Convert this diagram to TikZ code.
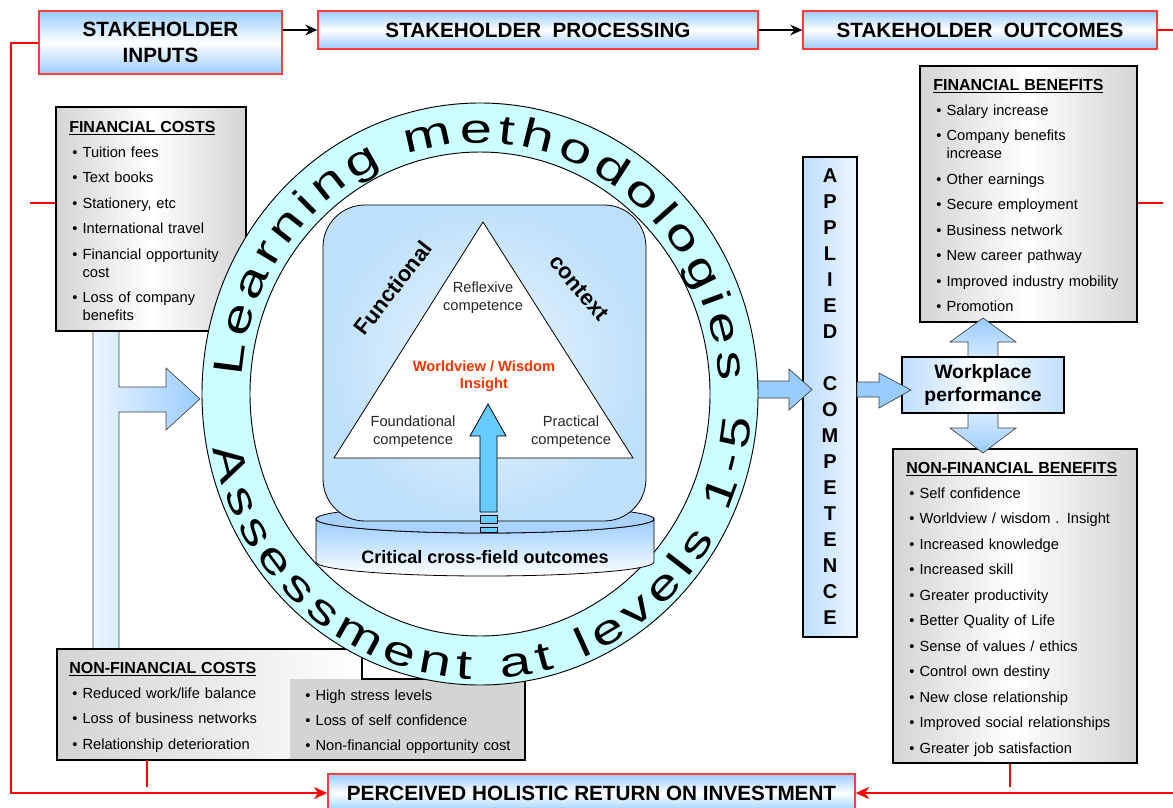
\documentclass[tikz,border=0pt]{standalone}
\usepackage{fontspec}
\setmainfont{Liberation Sans}
\newfontfamily\ringfamily[FakeStretch=1.4]{Liberation Sans}
\usepackage{xcolor}
\usepackage{tikz}
\usetikzlibrary{arrows.meta,decorations.text}

\definecolor{hdrblue}{RGB}{153,204,255}
\definecolor{hdrred}{RGB}{255,60,60}
\definecolor{linered}{RGB}{255,0,0}
\definecolor{boxgray}{RGB}{212,212,212}
\definecolor{ringcyan}{RGB}{204,255,255}
\definecolor{sqblue}{RGB}{190,224,250}
\definecolor{sqlight}{RGB}{236,246,255}
\definecolor{arrblue}{RGB}{153,204,255}
\definecolor{uparrblue}{RGB}{102,204,255}
\definecolor{barblue}{RGB}{190,222,252}
\definecolor{barlight}{RGB}{236,245,255}
\definecolor{diskblue}{RGB}{170,210,255}
\definecolor{wisdomred}{RGB}{255,51,0}

\newcommand\listfont{\fontsize{11}{13.5}\selectfont}
\newcommand\boxtitle[1]{{\fontsize{12}{13.5}\selectfont\bfseries\underline{#1}}\par}
\newcommand\bitem[1]{\hangindent=10pt\hangafter=1\noindent\makebox[10pt][l]{\hspace{2.25pt}\textbullet}#1\par}
\newcommand\ringfont{\ringfamily\fontsize{31}{36}\selectfont}

\tikzset{
  header/.style={draw=hdrred, line width=1pt, top color=hdrblue, bottom color=hdrblue, middle color=white, inner sep=0pt, align=center, font=\fontsize{15.5}{19.5}\selectfont\bfseries},
  listbox/.style={draw=black, line width=1.3pt, left color=boxgray, right color=boxgray, middle color=white, inner sep=0pt},
  listtext/.style={anchor=base west, inner sep=0pt, text width=#1, align=left, font=\listfont, execute at begin node={\setlength{\parskip}{5.6pt}}},
  redline/.style={draw=linered, line width=1.5pt},
  redarrow/.style={redline, -{Stealth[length=10pt,width=9pt,inset=3pt]}},
  blackarrow/.style={draw=black, line width=1.5pt, -{Stealth[length=9pt,width=8pt,inset=3pt]}},
  blockarrow/.style={draw=black!75, line width=0.5pt},
  trilabel/.style={inner sep=0pt, align=center, font=\fontsize{11}{13.5}\selectfont, text=black!85},
}

\begin{document}
\begin{tikzpicture}[x=0.75pt,y=0.75pt,yscale=-1,xscale=1]
\useasboundingbox (0,0) rectangle (1173,807);

%Shape: Input bar with branch arrow
\draw[blockarrow, left color=barlight, right color=arrblue] (93,331) -- (119,331) -- (119,387) -- (166,387) -- (166,368) -- (200,399) -- (166,430) -- (166,412) -- (119,412) -- (119,649) -- (93,649) -- cycle;

%Shape: Financial costs
\node[listbox, minimum width=142.5pt, minimum height=168pt] (fincost) at (151,219) {};
\node[listtext=128pt] (fincost-txt) at (69,132) {\boxtitle{FINANCIAL COSTS}\bitem{Tuition fees}\bitem{Text books}\bitem{Stationery, etc}\bitem{International travel}\bitem{Financial opportunity\break cost}\bitem{Loss of company\break benefits}};

%Shape: Non-financial costs (stepped outline)
\coordinate (nfcost-nw) at (57,649);
\coordinate (nfcost-sw) at (57,760);
\shade[left color=boxgray, right color=white] (nfcost-nw) rectangle (362,760);
\shade[left color=boxgray, middle color=white, right color=boxgray] (290,679) rectangle (525,760);
\draw[line width=1.3pt] (nfcost-nw) -- (362,649) -- (362,679) -- (525,679) -- (525,760) -- (nfcost-sw) -- cycle;
\node[listtext=160pt] (nfcost-left) at (69,673) {\boxtitle{NON-FINANCIAL COSTS}\bitem{Reduced work/life balance}\bitem{Loss of business networks}\bitem{Relationship deterioration}};
\node[listtext=160pt] (nfcost-right) at (302,700) {\bitem{High stress levels}\bitem{Loss of self confidence}\bitem{Non-financial opportunity cost}};

%Shape: Financial benefits
\node[listbox, minimum width=162.75pt, minimum height=192pt] (finben) at (1028.5,194) {};
\node[listtext=148pt] (finben-txt) at (933,90) {\boxtitle{FINANCIAL BENEFITS}\bitem{Salary increase}\bitem{Company benefits\break increase}\bitem{Other earnings}\bitem{Secure employment}\bitem{Business network}\bitem{New career pathway}\bitem{Improved industry mobility}\bitem{Promotion}};

%Shape: Non-financial benefits
\node[listbox, minimum width=183pt, minimum height=235.5pt] (nfben) at (1015,606) {};
\node[listtext=170pt] (nfben-txt) at (906,473) {\boxtitle{NON-FINANCIAL BENEFITS}\bitem{Self confidence}\bitem{Worldview / wisdom . Insight}\bitem{Increased knowledge}\bitem{Increased skill}\bitem{Greater productivity}\bitem{Better Quality of Life}\bitem{Sense of values / ethics}\bitem{Control own destiny}\bitem{New close relationship}\bitem{Improved social relationships}\bitem{Greater job satisfaction}};

% Header Nodes
\node[header, minimum width=182.25pt, minimum height=47.25pt] (inputs) at (160.5,42.5) {STAKEHOLDER\\INPUTS};
\node[header, minimum width=330pt, minimum height=28.5pt] (processing) at (538,30) {STAKEHOLDER\ \ PROCESSING};
\node[header, minimum width=265.5pt, minimum height=28.5pt] (outcomes) at (980,30) {STAKEHOLDER\ \ OUTCOMES};
\node[header, minimum width=395.25pt, minimum height=28.5pt] (perceived) at (591.5,793) {PERCEIVED HOLISTIC RETURN ON INVESTMENT};

%Connectors
\draw[blackarrow] (inputs.east |- processing.west) -- (processing.west);
\draw[blackarrow] (processing.east) -- (outcomes.west);
\draw[redarrow] (inputs.west) -- ++(-27,0) |- (perceived.west);
\draw[redarrow] (outcomes.east) -- ++(40,0) |- (perceived.east);
\coordinate (fcstub) at (30,203);
\draw[redline] (fcstub) -- (fcstub -| fincost.west);
\coordinate (fbstub) at (1163,203);
\draw[redline] (fbstub) -- (fbstub -| finben.east);
\coordinate (nbstub) at (1010,787);
\draw[redline] (nbstub) -- (nbstub |- nfben.south);
\coordinate (ncstub) at (147,787);
\draw[redline] (ncstub) -- (ncstub |- nfcost-sw);

%Shape: Applied competence bar
\node[draw=black, line width=0.8pt, left color=barblue, right color=barlight, inner sep=0pt, minimum width=40.5pt, minimum height=360pt, align=center, font=\fontsize{15}{19.5}\selectfont\bfseries] (applied) at (830,397) {A\\P\\P\\L\\I\\E\\D\\[19.5pt]C\\O\\M\\P\\E\\T\\E\\N\\C\\E};

%Shape: Double arrow and workplace
\draw[blockarrow, top color=arrblue, bottom color=arrblue, middle color=white] (983,318) -- (1016,342) -- (998,342) -- (998,428) -- (1016,428) -- (983,453) -- (950,428) -- (968,428) -- (968,342) -- (950,342) -- cycle;
\node[draw=black, line width=0.8pt, left color=barblue, right color=barblue, middle color=white, inner sep=0pt, minimum width=121.5pt, minimum height=42pt, align=center, font=\fontsize{14.5}{17.5}\selectfont\bfseries] (workplace) at (983,385) {Workplace\\performance};

%Shape: Block arrows
\draw[blockarrow, fill=arrblue] (745,381) -- (789,381) -- (789,369) -- (812,389.5) -- (789,410) -- (789,398) -- (745,398) -- cycle;
\draw[blockarrow, fill=arrblue] (857,382) -- (879,382) -- (879,373) -- (911,390) -- (879,408) -- (879,397) -- (857,397) -- cycle;

%Shape: Ring
\draw[line width=0.7pt, fill=ringcyan] (480,394) ellipse [x radius=278, y radius=291];
\draw[line width=0.7pt, fill=white] (480,394) ellipse [x radius=230, y radius=242];

%Shape: Disk
\draw[line width=0.6pt, top color=arrblue, bottom color=white] (316,519) -- (316,562) arc[start angle=180, end angle=0, x radius=169, y radius=14] -- (654,519) arc[start angle=0, end angle=180, x radius=169, y radius=14] -- cycle;
\draw[line width=0.6pt, fill=diskblue] (485,519) ellipse [x radius=169, y radius=14];
\node[inner sep=0pt, font=\fontsize{13.5}{16}\selectfont\bfseries] (outcomesdisk) at (485,557) {Critical cross-field outcomes};

%Shape: Rounded square
\draw[line width=0.6pt, rounded corners=31.5pt, inner color=sqlight, outer color=sqblue] (323,205) rectangle (646,521);

%Shape: Triangle
\coordinate (tri-top) at (483,222);
\coordinate (tri-left) at (334,458);
\coordinate (tri-right) at (633,458);
\draw[line width=0.6pt, fill=white] (tri-top) -- (tri-left) -- (tri-right) -- cycle;

% Text Node
\node[trilabel] (reflexive) at (483,298) {Reflexive\\competence};
\node[trilabel] (foundational) at (413,432) {Foundational\\competence};
\node[trilabel] (practical) at (571,432) {Practical\\competence};
\node[trilabel, text=wisdomred, font=\fontsize{11}{13}\selectfont\bfseries] (wisdom) at (484,376) {Worldview / Wisdom\\Insight};
\node[rotate=52, inner sep=0pt, font=\fontsize{16.5}{20}\selectfont\bfseries] (functional) at (393,288) {Functional};
\node[rotate=-50, inner sep=0pt, font=\fontsize{16.5}{20}\selectfont\bfseries] (context) at (579,288) {context};

%Shape: Up arrow
\draw[line width=0.6pt, fill=uparrblue] (480,512) -- (480,436) -- (470,436) -- (488,404) -- (506,436) -- (497,436) -- (497,512) -- cycle;
\draw[line width=0.6pt, fill=uparrblue] (480,515) rectangle (497,523);
\draw[line width=0.6pt, fill=uparrblue] (480,527) rectangle (497,532);

%Ring text
\begin{scope}[yscale=-1]
\path[decorate, decoration={text along path, text={|\ringfont|Learning methodologies}, text align={fit to path}}] (480,-394) ++(176:239 and 251) arc[start angle=176, end angle=3, x radius=239, y radius=251];
\path[decorate, decoration={text along path, text={|\ringfont|Assessment at levels 1-5}, text align={fit to path}}] (480,-394) ++(191:272 and 285) arc[start angle=191, end angle=355, x radius=272, y radius=285];
\end{scope}

\end{tikzpicture}
\end{document}
